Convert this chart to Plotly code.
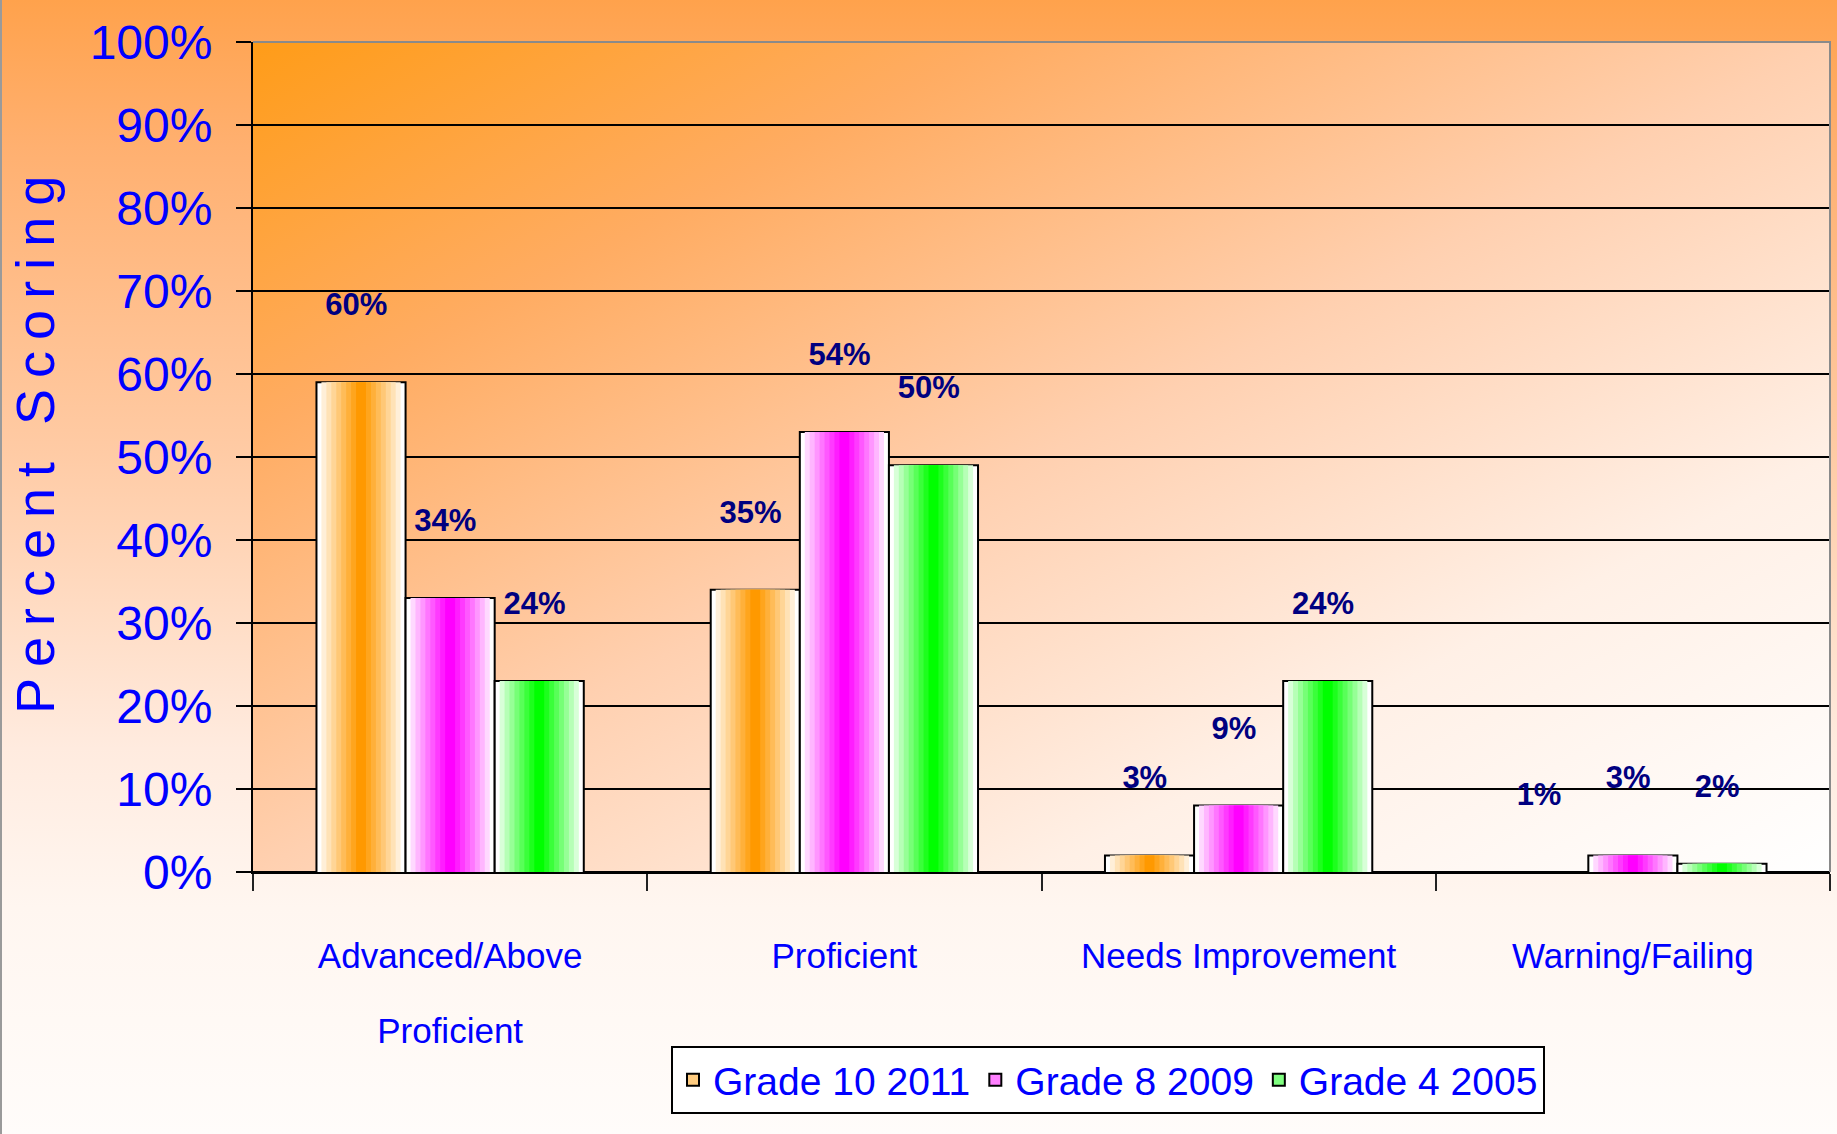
import base64
import plotly.graph_objects as go

# ---------------- data ----------------
categories = ["Advanced/Above<br>Proficient", "Proficient", "Needs Improvement", "Warning/Failing"]
series_names = ["Grade 10 2011", "Grade 8 2009", "Grade 4 2005"]
grade10_2011 = [60, 35, 3, 1]
grade8_2009 = [34, 54, 9, 3]
grade4_2005 = [24, 50, 24, 2]
series_values = [grade10_2011, grade8_2009, grade4_2005]
series_colors = ["#FF9900", "#FF00FF", "#00FF00"]
y_tick_values = [0, 10, 20, 30, 40, 50, 60, 70, 80, 90, 100]
y_tick_labels = ["0%", "10%", "20%", "30%", "40%", "50%", "60%", "70%", "80%", "90%", "100%"]
y_title = "Percent Scoring"

# ---------------- layout constants ----------------
W, H = 1837, 1134
ML, MR, MT, MB = 253, 7, 42, 262
PLOT_W = W - ML - MR
PLOT_H = H - MT - MB
BAR_W = 0.226          # bar width in category units
BAR_BASE = -1          # bars start just under the axis (3-D depth of source chart)
LABEL_OFFSET = 8       # data labels float above the bar value
LABEL_DX = -0.012
N_LAYERS = 9
SANS = "Liberation Sans, Arial, sans-serif"
BLUE = "#0000FF"
NAVY = "#000080"
CAT_FONT = 35          # visible size of category labels
CAT_LINE = 58          # size that sets the line spacing of the two-line label


def hex_to_rgb(h):
    h = h.lstrip("#")
    return tuple(int(h[i:i + 2], 16) for i in (0, 2, 4))


def mix_white(color, m):
    r, g, b = hex_to_rgb(color)
    return "rgb(%d,%d,%d)" % (round(255 + (r - 255) * m), round(255 + (g - 255) * m), round(255 + (b - 255) * m))


def svg_uri(svg):
    return "data:image/svg+xml;base64," + base64.b64encode(svg.encode()).decode()


def gradient_svg(stops, x2, y2):
    st = "".join('<stop offset="%s" stop-color="%s"/>' % (o, c) for o, c in stops)
    return ('<svg xmlns="http://www.w3.org/2000/svg" width="100" height="100" viewBox="0 0 100 100" '
            'preserveAspectRatio="none"><defs><linearGradient id="g" x1="0" y1="0" x2="%s" y2="%s">%s'
            '</linearGradient></defs><rect x="0" y="0" width="100" height="100" fill="url(#g)"/></svg>'
            % (x2, y2, st))


def cat_label(text):
    return "<br>".join('<span style="font-size:%dpx">%s</span>' % (CAT_FONT, part) for part in text.split("<br>"))


paper_grad = gradient_svg([(0, "#FFA24C"), (0.13, "#FFB070"), (0.4, "#FFCBA5"),
                           (0.66, "#FFEBDF"), (0.8, "#FFF6F0"), (1, "#FFFCFA")], 0, 1)
plot_grad = gradient_svg([(0, "#FF9C18"), (0.235, "#FFAC62"), (0.5, "#FFD0B0"),
                          (0.75, "#FFF0E6"), (1, "#FFFFFF")], 1, 1)

fig = go.Figure()

cat_idx = list(range(len(categories)))
offsets = [-BAR_W, 0.0, BAR_W]

for s, (name, vals, col) in enumerate(zip(series_names, series_values, series_colors)):
    xs = [i + offsets[s] for i in cat_idx]
    for j in range(N_LAYERS):
        frac = 1 - j / N_LAYERS
        m = (j / (N_LAYERS - 1)) ** 0.9
        fig.add_trace(go.Bar(
            x=xs, y=vals, base=BAR_BASE, width=BAR_W * frac,
            marker=dict(color=mix_white(col, m),
                        line=dict(color="black", width=2 if j == 0 else 0)),
            showlegend=False, hoverinfo="skip",
        ))
    # legend entry
    fig.add_trace(go.Bar(
        x=[None], y=[None], name=name,
        marker=dict(color=mix_white(col, 0.5), line=dict(color="black", width=2)),
        showlegend=True, hoverinfo="skip",
    ))

# data labels
for s, (vals, col) in enumerate(zip(series_values, series_colors)):
    fig.add_trace(go.Scatter(
        x=[i + offsets[s] + LABEL_DX for i in cat_idx],
        y=[v + LABEL_OFFSET for v in vals],
        mode="text", text=["%d%%" % v for v in vals],
        textposition="middle center",
        textfont=dict(family=SANS, size=31, color=NAVY, weight="bold"),
        showlegend=False, hoverinfo="skip", cliponaxis=False,
    ))

fig.update_layout(
    width=W, height=H,
    margin=dict(l=ML, r=MR, t=MT, b=MB, pad=0),
    barmode="overlay",
    paper_bgcolor="#FFF8F3",
    plot_bgcolor="rgba(0,0,0,0)",
    hovermode=False,
    images=[
        dict(source=svg_uri(paper_grad), xref="paper", yref="paper",
             x=-ML / PLOT_W, y=1 + MT / PLOT_H, sizex=W / PLOT_W, sizey=H / PLOT_H,
             xanchor="left", yanchor="top", sizing="stretch", layer="below"),
        dict(source=svg_uri(plot_grad), xref="paper", yref="paper",
             x=0, y=1, sizex=1, sizey=1,
             xanchor="left", yanchor="top", sizing="stretch", layer="below"),
    ],
    shapes=[
        dict(type="path", xref="paper", yref="paper", path="M 0 1 L 1 1 L 1 0",
             line=dict(color="#8A8A8A", width=2)),
        dict(type="line", xref="paper", yref="paper",
             x0=-(ML - 1) / PLOT_W, x1=-(ML - 1) / PLOT_W,
             y0=-MB / PLOT_H, y1=1 + MT / PLOT_H,
             line=dict(color="#9A9A9A", width=2)),
    ],
    annotations=[
        dict(text='<span style="letter-spacing:11px">%s</span>' % y_title,
             xref="paper", yref="paper",
             x=(35 - ML) / PLOT_W, y=(MT + PLOT_H - 440) / PLOT_H,
             xanchor="center", yanchor="middle", textangle=-90, showarrow=False,
             font=dict(family=SANS, size=54, color=BLUE)),
    ],
    legend=dict(
        orientation="h", x=(1108 - ML) / PLOT_W, xanchor="center",
        y=-(1046 - (MT + PLOT_H)) / PLOT_H, yanchor="top",
        bgcolor="white", bordercolor="black", borderwidth=2,
        font=dict(family=SANS, size=39, color=BLUE),
        traceorder="normal", itemwidth=30,
    ),
    xaxis=dict(
        range=[-0.5, len(categories) - 0.5],
        tickmode="array", tickvals=cat_idx, ticktext=[cat_label(c) for c in categories],
        ticks="", ticklen=0,
        tickfont=dict(family=SANS, size=CAT_LINE, color=BLUE),
        ticklabelstandoff=24,
        showline=True, linecolor="black", linewidth=2,
        showgrid=False, zeroline=False, automargin=False,
        minor=dict(tickmode="array", tickvals=[i + 0.5 for i in range(-1, len(categories))],
                   ticks="outside", ticklen=17, tickwidth=1.5, tickcolor="#222222", showgrid=False),
    ),
    yaxis=dict(
        range=[0, 100],
        tickmode="array", tickvals=y_tick_values, ticktext=y_tick_labels,
        ticks="outside", ticklen=15, tickwidth=2, tickcolor="black",
        tickfont=dict(family=SANS, size=48, color=BLUE),
        ticklabelstandoff=14,
        showgrid=True, gridcolor="black", gridwidth=2,
        zeroline=True, zerolinecolor="black", zerolinewidth=2,
        showline=True, linecolor="black", linewidth=2,
        automargin=False,
    ),
)

fig.write_html("out.html", config={"displayModeBar": False},
               post_script="document.body.style.margin='0';")
